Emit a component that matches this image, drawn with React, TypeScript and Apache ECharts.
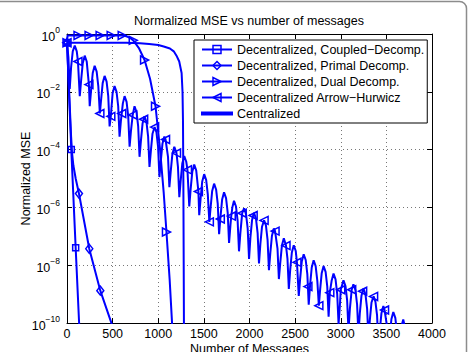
import React, { useEffect, useRef } from 'react';
import * as echarts from 'echarts';

const TITLE = 'Normalized MSE vs number of messages';
const X_NAME = 'Number of Messages';
const Y_NAME = 'Normalized MSE';
const NAMES = [
  'Decentralized, Coupled−Decomp.',
  'Decentralized, Primal Decomp.',
  'Decentralized, Dual Decomp.',
  'Decentralized Arrow−Hurwicz',
  'Centralized',
];

// x ticks (messages) and y ticks (log10 of normalized MSE)
const X_MIN = 0;
const X_MAX = 4000;
const X_STEP = 500;
const Y_MIN = -10;
const Y_MAX = 0;
const Y_STEP = 2;

// Points: [number of messages, log10(normalized MSE)]
const coupled = [[0, -0.3], [47, -4.0], [95, -7.4], [140, -10.5]];
const coupledMarks = [0, 47, 95];

const primal = [
  [0, -0.3], [45, -3.55], [55, -4.1], [70, -4.55], [95, -5.0], [131, -5.52],
  [244, -7.43], [365, -8.88], [489, -10.02], [500, -10.1],
];
const primalMarks = [0, 131, 244, 365];

const dual = [
  [0, -0.3], [6, -0.05], [121, -0.05], [242, -0.05], [363, -0.05], [484, -0.05],
  [605, -0.05], [650, -0.08], [690, -0.13], [726, -0.22], [790, -0.5], [850, -0.9],
  [910, -1.55], [970, -2.5], [1020, -4.0], [1060, -5.5], [1090, -6.85], [1125, -8.5],
  [1160, -10.5],
];
const dualMarks = [0, 121, 242, 363, 484, 605, 726, 850, 970, 1090];

const arrowHurwicz = [
  [0, -0.3], [15, -0.8], [30, -1.9], [45, -1.15], [63, -0.6],
  [85, -0.4], [107, -0.6], [120, -0.95], [140, -2.15], [155, -1.6], [173, -1.0],
  [194, -0.75], [216, -0.95], [240, -1.75], [249, -2.5], [264, -1.95], [282, -1.35],
  [303, -1.1], [325, -1.3], [343, -1.8], [360, -2.75], [373, -2.3], [391, -1.7],
  [412, -1.45], [434, -1.65], [452, -2.15], [467, -3.2], [480, -2.85], [500, -2.05],
  [521, -1.8], [543, -2.0], [561, -2.5], [576, -3.55], [591, -3.0], [600, -2.75], [612, -2.4],
  [631, -2.15], [653, -2.35], [671, -2.85], [686, -3.9], [701, -3.35], [720, -2.8],
  [740, -2.5], [762, -2.7], [780, -3.2], [795, -4.25], [810, -3.7], [828, -3.1], [840, -2.95],
  [849, -2.85], [871, -3.05], [889, -3.55], [904, -4.6], [919, -4.05], [937, -3.45],
  [960, -3.22], [980, -3.4], [998, -3.9], [1013, -4.95], [1028, -4.4], [1046, -3.8],
  [1067, -3.55], [1080, -3.65], [1107, -4.25], [1122, -5.3], [1137, -4.75], [1155, -4.15],
  [1176, -3.9], [1200, -4.12], [1216, -4.6], [1231, -5.65], [1246, -5.07], [1264, -4.47],
  [1285, -4.22], [1307, -4.42], [1320, -4.7], [1340, -5.97], [1355, -5.37], [1373, -4.77],
  [1394, -4.52], [1416, -4.72], [1440, -5.45], [1449, -6.27], [1464, -5.7], [1482, -5.1],
  [1503, -4.85], [1525, -5.05], [1543, -5.55], [1560, -6.5], [1573, -6.03], [1591, -5.43],
  [1612, -5.18], [1634, -5.38], [1652, -5.88], [1667, -6.93], [1680, -6.4], [1700, -5.73],
  [1721, -5.48], [1743, -5.68], [1761, -6.18], [1776, -7.23], [1791, -6.62], [1800, -6.3], [1812, -6.0],
  [1830, -5.77], [1852, -5.97], [1870, -6.47], [1885, -7.52], [1900, -6.88], [1920, -6.2],
  [1940, -6.03], [1962, -6.23], [1980, -6.73], [1995, -7.78], [2010, -7.04], [2028, -6.44], [2040, -6.28],
  [2049, -6.19], [2071, -6.39], [2089, -6.89], [2104, -7.94], [2119, -7.27], [2137, -6.67],
  [2160, -6.45], [2180, -6.62], [2198, -7.12], [2213, -8.17], [2228, -7.58], [2246, -6.98],
  [2267, -6.73], [2280, -6.82], [2307, -7.43], [2322, -8.48], [2337, -7.92], [2355, -7.32],
  [2376, -7.07], [2400, -7.32], [2416, -7.77], [2431, -8.82], [2446, -8.16], [2464, -7.56],
  [2485, -7.31], [2507, -7.51], [2520, -7.9], [2540, -9.06], [2555, -8.47], [2573, -7.87],
  [2594, -7.62], [2616, -7.82], [2634, -8.32], [2640, -8.74], [2649, -9.37], [2664, -8.68], [2682, -8.08],
  [2703, -7.83], [2725, -8.03], [2743, -8.53], [2760, -9.4], [2773, -8.88], [2791, -8.28],
  [2812, -8.03], [2834, -8.23], [2852, -8.73], [2867, -9.78], [2880, -8.95], [2900, -8.54],
  [2921, -8.29], [2943, -8.49], [2961, -8.99], [2976, -10.04], [2991, -9.37], [3000, -8.85],
  [3030, -8.52], [3052, -8.72], [3070, -9.22], [3085, -10.27], [3100, -9.51], [3120, -8.85],
  [3139, -8.66], [3161, -8.86], [3179, -9.36], [3194, -10.41], [3209, -9.66], [3227, -9.06], [3240, -8.9],
  [3249, -8.81], [3271, -9.01], [3289, -9.51], [3304, -10.56], [3319, -9.89], [3337, -9.29],
  [3360, -9.08], [3380, -9.26], [3398, -9.74], [3413, -10.79], [3428, -10.26], [3446, -9.66],
  [3467, -9.41], [3480, -9.55], [3507, -10.11], [3522, -11.16], [3537, -10.47], [3555, -9.87],
  [3576, -9.62], [3598, -9.82], [3616, -10.32], [3631, -11.37], [3646, -10.73], [3664, -10.13],
  [3685, -9.88], [3700, -10.1], [3712, -10.6],
];
const arrowHurwiczMarks = [
  0, 120, 240, 360, 480, 600, 720, 840, 960, 1080, 1200, 1320, 1440, 1560, 1680,
  1800, 1920, 2040, 2160, 2280, 2400, 2520, 2640, 2760, 2880, 3000, 3120, 3240,
  3360, 3480,
];

const centralized = [
  [0, -0.3], [650, -0.3], [800, -0.32], [900, -0.35], [1000, -0.38], [1060, -0.43],
  [1128, -0.5], [1170, -0.6], [1200, -0.75], [1230, -0.95], [1256, -1.35],
  [1266, -2.0], [1271, -3.0], [1275, -5.0], [1279, -8.0], [1282, -10.5],
];

const BLUE = '#0000ff';
const FONT = '"Liberation Sans", Arial, Helvetica, sans-serif';

function build(points: number[][], marks: number[]) {
  return points.map(([x, y]) =>
    marks.indexOf(x) >= 0 ? { value: [x, y] } : { value: [x, y], symbol: 'none' }
  );
}

function supLabel(v: number) {
  const e = Math.round(v);
  const s = e < 0 ? '−' + Math.abs(e) : String(e);
  return '{b|10}{s|' + s + '}';
}

export default function App() {
  const ref = useRef<HTMLDivElement>(null);
  useEffect(() => {
    if (!ref.current) return;
    const chart = echarts.init(ref.current, undefined, { renderer: 'svg' });
    const markerStyle = { color: 'rgba(0,0,0,0)', borderColor: BLUE, borderWidth: 1.5 };
    const lineStyle = { color: BLUE, width: 2 };
    const common = {
      type: 'line',
      showSymbol: true,
      showAllSymbol: true,
      lineStyle,
      itemStyle: markerStyle,
      emphasis: { disabled: true },
      clip: true,
      xAxisIndex: 0,
      yAxisIndex: 0,
    };
    const option: any = {
      animation: false,
      textStyle: { fontFamily: FONT },
      title: {
        text: TITLE,
        left: 134,
        top: 14,
        padding: 0,
        textStyle: { fontSize: 12.5, fontWeight: 'normal', color: '#000', fontFamily: FONT },
      },
      grid: { left: 67, top: 34, width: 365, height: 289, show: false, outerBoundsMode: 'none', containLabel: false },
      legend: {
        orient: 'vertical',
        left: 194,
        top: 40,
        padding: [3, 3, 3, 7],
        itemWidth: 30,
        itemHeight: 10,
        itemGap: 3,
        borderColor: '#000',
        borderWidth: 1,
        borderRadius: 0,
        backgroundColor: '#fff',
        textStyle: { fontSize: 12.5, color: '#000', fontFamily: FONT, lineHeight: 12.5 },
        data: NAMES.map((n, i) =>
          i === 4
            ? { name: n, icon: 'path://M0,0H30V2H0Z', itemStyle: { color: BLUE } }
            : { name: n, itemStyle: markerStyle, lineStyle }
        ),
      },
      xAxis: [
        {
          type: 'value',
          min: X_MIN,
          max: X_MAX,
          interval: X_STEP,
          position: 'bottom',
          name: X_NAME,
          nameLocation: 'middle',
          nameGap: 19,
          nameMoveOverlap: false,
          nameTextStyle: { fontSize: 12.5, color: '#000', fontFamily: FONT },
          axisLine: { show: true, onZero: false, lineStyle: { color: '#000', width: 1 } },
          axisTick: { show: true, inside: true, length: 5, lineStyle: { color: '#000' } },
          axisLabel: { fontSize: 12.5, color: '#000', margin: 4, fontFamily: FONT, formatter: (v: number) => String(v) },
          splitLine: { show: true, lineStyle: { type: [1, 3], color: '#777', width: 1 } },
        },
        {
          type: 'value',
          min: X_MIN,
          max: X_MAX,
          interval: X_STEP,
          position: 'top',
          axisLine: { show: true, onZero: false, lineStyle: { color: '#000', width: 1 } },
          axisTick: { show: true, inside: true, length: 5, lineStyle: { color: '#000' } },
          axisLabel: { show: false },
          splitLine: { show: false },
        },
      ],
      yAxis: [
        {
          type: 'value',
          min: Y_MIN,
          max: Y_MAX,
          interval: Y_STEP,
          position: 'left',
          name: Y_NAME,
          nameLocation: 'middle',
          nameGap: 35,
          nameMoveOverlap: false,
          nameTextStyle: { fontSize: 12.5, color: '#000', fontFamily: FONT },
          axisLine: { show: true, onZero: false, lineStyle: { color: '#000', width: 1 } },
          axisTick: { show: true, inside: true, length: 5, lineStyle: { color: '#000' } },
          axisLabel: {
            margin: 7,
            formatter: supLabel,
            rich: {
              b: { fontSize: 12.5, color: '#000', fontFamily: FONT, lineHeight: 18, verticalAlign: 'bottom' },
              s: { fontSize: 8.5, color: '#000', fontFamily: FONT, lineHeight: 18, verticalAlign: 'top' },
            },
          },
          splitLine: { show: true, lineStyle: { type: [1, 3], color: '#777', width: 1 } },
        },
        {
          type: 'value',
          min: Y_MIN,
          max: Y_MAX,
          interval: Y_STEP,
          position: 'right',
          axisLine: { show: true, onZero: false, lineStyle: { color: '#000', width: 1 } },
          axisTick: { show: true, inside: true, length: 5, lineStyle: { color: '#000' } },
          axisLabel: { show: false },
          splitLine: { show: false },
        },
      ],
      graphic: [
        {
          type: 'rect',
          silent: true,
          z: 100,
          shape: { x: -20, y: 1.5, width: 486.5, height: 400, r: 7 },
          style: { fill: 'none', stroke: '#8c8c8c', lineWidth: 1.5 },
        },
      ],
      series: [
        { ...common, name: NAMES[0], symbol: 'rect', symbolSize: 6, data: build(coupled, coupledMarks) },
        { ...common, name: NAMES[1], symbol: 'diamond', symbolSize: [7, 9], data: build(primal, primalMarks) },
        { ...common, name: NAMES[2], symbol: 'triangle', symbolRotate: -90, symbolSize: 8, data: build(dual, dualMarks) },
        {
          ...common,
          name: NAMES[3],
          symbol: 'triangle',
          symbolRotate: 90,
          symbolSize: 8,
          data: build(arrowHurwicz, arrowHurwiczMarks),
        },
        { ...common, name: NAMES[4], symbol: 'none', showSymbol: false, data: centralized.map((p) => ({ value: p })) },
      ],
    };
    chart.setOption(option);
    return () => chart.dispose();
  }, []);
  return (
    <div
      ref={ref}
      style={{ position: 'fixed', left: 0, top: 0, width: 470, height: 352, background: '#fff' }}
    />
  );
}
